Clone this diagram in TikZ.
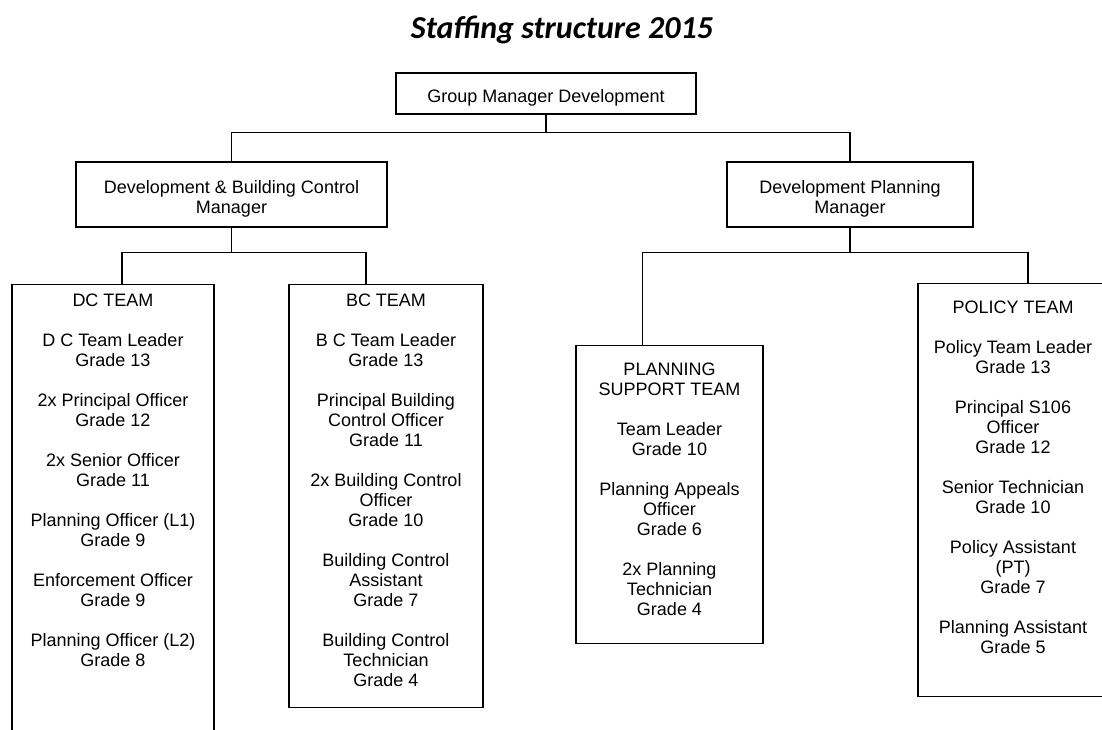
\documentclass[tikz,border=0pt]{standalone}
\usepackage{fontspec}
\setmainfont{Liberation Sans}
\newfontfamily\titlefont{Carlito}
\usetikzlibrary{positioning}

\newcommand\lift{\rule{0pt}{21pt}}

\begin{document}
\begin{tikzpicture}[x=1pt,y=-1pt,line width=1.1pt,node distance=9pt,
        box/.style={draw,align=center,inner sep=0pt,font=\fontsize{18}{20}\selectfont},
        team/.style={draw,anchor=north,inner sep=0pt},
        staff/.style={align=center,inner sep=0pt,font=\fontsize{18}{20}\selectfont},
        drop/.style={to path={(\tikztostart) -- ++(0,#1) -| (\tikztotarget)}}]

  \useasboundingbox (0,0) rectangle (1102,729);

  \node[font=\titlefont\bfseries\itshape\fontsize{32}{38}\selectfont,anchor=base] (title) at (562,38) {Staffing structure 2015};

  \node[box,minimum width=300pt,minimum height=41pt] (gmd) at (546,93.5) {\lift Group Manager Development};
  \node[box,minimum width=311pt,minimum height=65pt] (dbc) at (231.5,194.5) {\lift Development \& Building Control\\Manager};
  \node[box,minimum width=246pt,minimum height=65pt] (dpm) at (850,194.5) {\lift Development Planning\\Manager};

  \node[team,minimum width=202pt,minimum height=460pt] (dc) at (113,284) {};
  \node[team,minimum width=194pt,minimum height=423pt] (bc) at (386,284) {};
  \node[team,minimum width=187pt,minimum height=298pt] (pst) at (669.5,345) {};
  \node[team,minimum width=190pt,minimum height=413pt] (pol) at (1013,283) {};

  \node[staff] (dc_list) [below=of dc.north] {DC TEAM\\[20pt]D C Team Leader\\Grade 13\\[20pt]2x Principal Officer\\Grade 12\\[20pt]2x Senior Officer\\Grade 11\\[20pt]Planning Officer (L1)\\Grade 9\\[20pt]Enforcement Officer\\Grade 9\\[20pt]Planning Officer (L2)\\Grade 8};
  \node[staff] (bc_list) [below=of bc.north] {BC TEAM\\[20pt]B C Team Leader\\Grade 13\\[20pt]Principal Building\\Control Officer\\Grade 11\\[20pt]2x Building Control\\Officer\\Grade 10\\[20pt]Building Control\\Assistant\\Grade 7\\[20pt]Building Control\\Technician\\Grade 4};
  \node[staff] (pst_list) [below=17pt of pst.north] {PLANNING\\SUPPORT TEAM\\[20pt]Team Leader\\Grade 10\\[20pt]Planning Appeals\\Officer\\Grade 6\\[20pt]2x Planning\\Technician\\Grade 4};
  \node[staff] (pol_list) [below=17pt of pol.north] {POLICY TEAM\\[20pt]Policy Team Leader\\Grade 13\\[20pt]Principal S106\\Officer\\Grade 12\\[20pt]Senior Technician\\Grade 10\\[20pt]Policy Assistant\\(PT)\\Grade 7\\[20pt]Planning Assistant\\Grade 5};

  \path (gmd.south) edge[drop=18] (dbc.north)
        (gmd.south) edge[drop=18] (dpm.north)
        (dbc.south) edge[drop=25] ([xshift=9pt]dc.north)
        (dbc.south) edge[drop=25] ([xshift=-20pt]bc.north)
        (dpm.south) edge[drop=25] ([xshift=-27pt]pst.north)
        (dpm.south) edge[drop=25] ([xshift=15pt]pol.north);

\end{tikzpicture}
\end{document}
